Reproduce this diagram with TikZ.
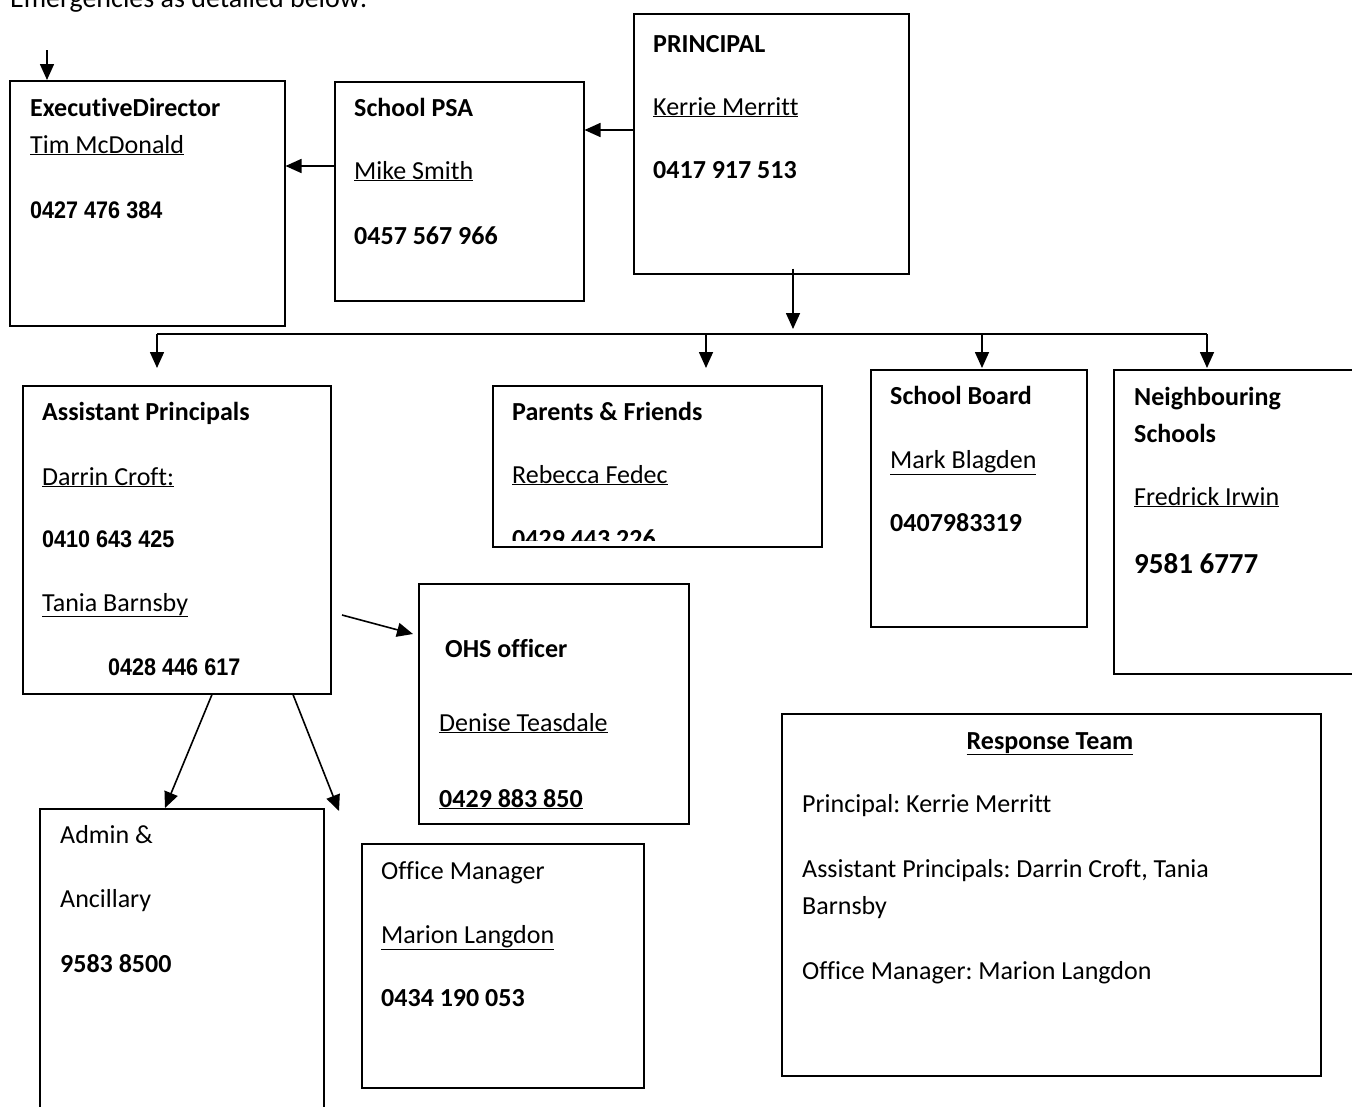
\documentclass[tikz,border=0pt]{standalone}
\usepackage{fontspec}
\setmainfont{Carlito}[Ligatures=NoCommon]
\newfontfamily\narrowfont[FakeStretch=0.9]{Liberation Sans}
\usetikzlibrary{arrows.meta}
\frenchspacing

\tikzset{
  box/.style={draw, line width=1.5pt, anchor=north west, inner sep=0pt},
  txt/.style={anchor=base west, inner sep=0pt, font=\fontsize{26}{30}\selectfont},
  nrw/.style={anchor=base west, inner sep=0pt, font=\narrowfont\bfseries\fontsize{24}{28}\selectfont},
  arr/.style={line width=1.6pt, -{Triangle[length=16pt,width=14pt]}},
}

\begin{document}
\begin{tikzpicture}[x=1pt,y=-1pt]
\useasboundingbox (0,0) rectangle (1352,1106);

\node[txt, font=\fontsize{28}{32}\selectfont] (intro) at (10,7) {Emergencies as detailed below:};

% top row
\node[box, minimum width=275pt, minimum height=245pt] (ed) at (9,80) {};
\node[txt] (edT) at (30,116) {\bfseries ExecutiveDirector};
\node[txt] (edN) at (30,153) {\underline{Tim McDonald}};
\node[nrw] (edP) at (30,218) {0427 476 384};

\node[box, minimum width=249pt, minimum height=219pt] (psa) at (334,81) {};
\node[txt] (psaT) at (354,116) {\bfseries School PSA};
\node[txt] (psaN) at (354,179) {\underline{Mike Smith}};
\node[txt] (psaP) at (354,244) {\bfseries 0457 567 966};

\node[box, minimum width=275pt, minimum height=260pt] (prin) at (633,13) {};
\node[txt] (prinT) at (653,52) {\bfseries PRINCIPAL};
\node[txt] (prinN) at (653,115) {\underline{Kerrie Merritt}};
\node[txt] (prinP) at (653,178) {\bfseries 0417 917 513};

\coordinate (edIn) at (47,50);
\draw[arr] (edIn) -- (edIn |- ed.north);
\draw[arr] ([yshift=-117pt]prin.north west) -- ([yshift=-49pt]psa.north east);
\draw[arr] ([yshift=-85pt]psa.north west) -- ([yshift=-86pt]ed.north east);

% bus
\coordinate (busIn) at (793,329);
\coordinate (b1) at (157,334);
\coordinate (b2) at (706,334);
\coordinate (b3) at (982,334);
\coordinate (b4) at (1207,334);
\draw[arr] ([xshift=160pt,yshift=6pt]prin.south west) -- (busIn);
\draw[line width=1.6pt] (b1) -- (b4);
\foreach \b in {b1,b2,b3,b4}
  \draw[arr] (\b) -- ++(0,34);

% second row
\node[box, minimum width=308pt, minimum height=308pt] (ap) at (22,385) {};
\node[txt] (apT) at (42,420) {\bfseries Assistant Principals};
\node[txt] (apN1) at (42,485) {\underline{Darrin Croft:}};
\node[nrw] (apP1) at (42,547) {0410 643 425};
\node[txt] (apN2) at (42,611) {\underline{Tania Barnsby}};
\node[nrw] (apP2) at (108,675) {0428 446 617};

\node[box, minimum width=329pt, minimum height=161pt] (pf) at (492,385) {};
\node[txt] (pfT) at (512,420) {\bfseries Parents \& Friends};
\node[txt] (pfN) at (512,483) {\underline{Rebecca Fedec}};
\begin{scope}
  \clip (492,385) rectangle (821,540);
  \node[txt] (pfP) at (512,547) {\bfseries 0429 443 226};
\end{scope}

\node[box, minimum width=216pt, minimum height=257pt] (sb) at (870,369) {};
\node[txt] (sbT) at (890,404) {\bfseries School Board};
\node[txt] (sbN) at (890,468) {\underline{Mark Blagden}};
\node[txt] (sbP) at (890,531) {\bfseries 0407983319};

\node[box, minimum width=260pt, minimum height=304pt] (ns) at (1113,369) {};
\node[txt] (nsT1) at (1134,405) {\bfseries Neighbouring};
\node[txt] (nsT2) at (1134,442) {\bfseries Schools};
\node[txt] (nsN) at (1134,505) {\underline{Fredrick Irwin}};
\node[txt, font=\fontsize{29}{34}\selectfont] (nsP) at (1134,573) {\bfseries 9581 6777};

% lower part
\node[box, minimum width=270pt, minimum height=240pt] (ohs) at (418,583) {};
\node[txt] (ohsT) at (445,657) {\bfseries OHS officer};
\node[txt] (ohsN) at (439,731) {\underline{Denise Teasdale}};
\node[txt] (ohsP) at (439,807) {\bfseries\underline{0429 883 850}};

\node[box, minimum width=284pt, minimum height=320pt] (adm) at (39,808) {};
\node[txt] (admT1) at (60,843) {Admin \&};
\node[txt] (admT2) at (60,907) {Ancillary};
\node[txt] (admP) at (60,972) {\bfseries 9583 8500};

\node[box, minimum width=282pt, minimum height=244pt] (om) at (361,843) {};
\node[txt] (omT) at (381,879) {Office Manager};
\node[txt] (omN) at (381,943) {\underline{Marion Langdon}};
\node[txt] (omP) at (381,1006) {\bfseries 0434 190 053};

\coordinate (ohsOut) at (342,615);
\coordinate (omIn) at (339,811);
\draw[arr] (ohsOut) -- ([xshift=-5pt,yshift=-51pt]ohs.north west);
\draw[arr] ([xshift=190pt]ap.south west) -- ([xshift=126pt]adm.north west);
\draw[arr] ([xshift=271pt]ap.south west) -- (omIn);

% response team
\node[box, minimum width=539pt, minimum height=362pt] (rt) at (781,713) {};
\node[txt, anchor=base] (rtT) at (1050,749) {\bfseries\underline{Response Team}};
\node[txt] (rt1) at (802,812) {Principal: Kerrie Merritt};
\node[txt] (rt2) at (802,877) {Assistant Principals: Darrin Croft, Tania};
\node[txt] (rt3) at (802,914) {Barnsby};
\node[txt] (rt4) at (802,979) {Office Manager: Marion Langdon};
\end{tikzpicture}
\end{document}
